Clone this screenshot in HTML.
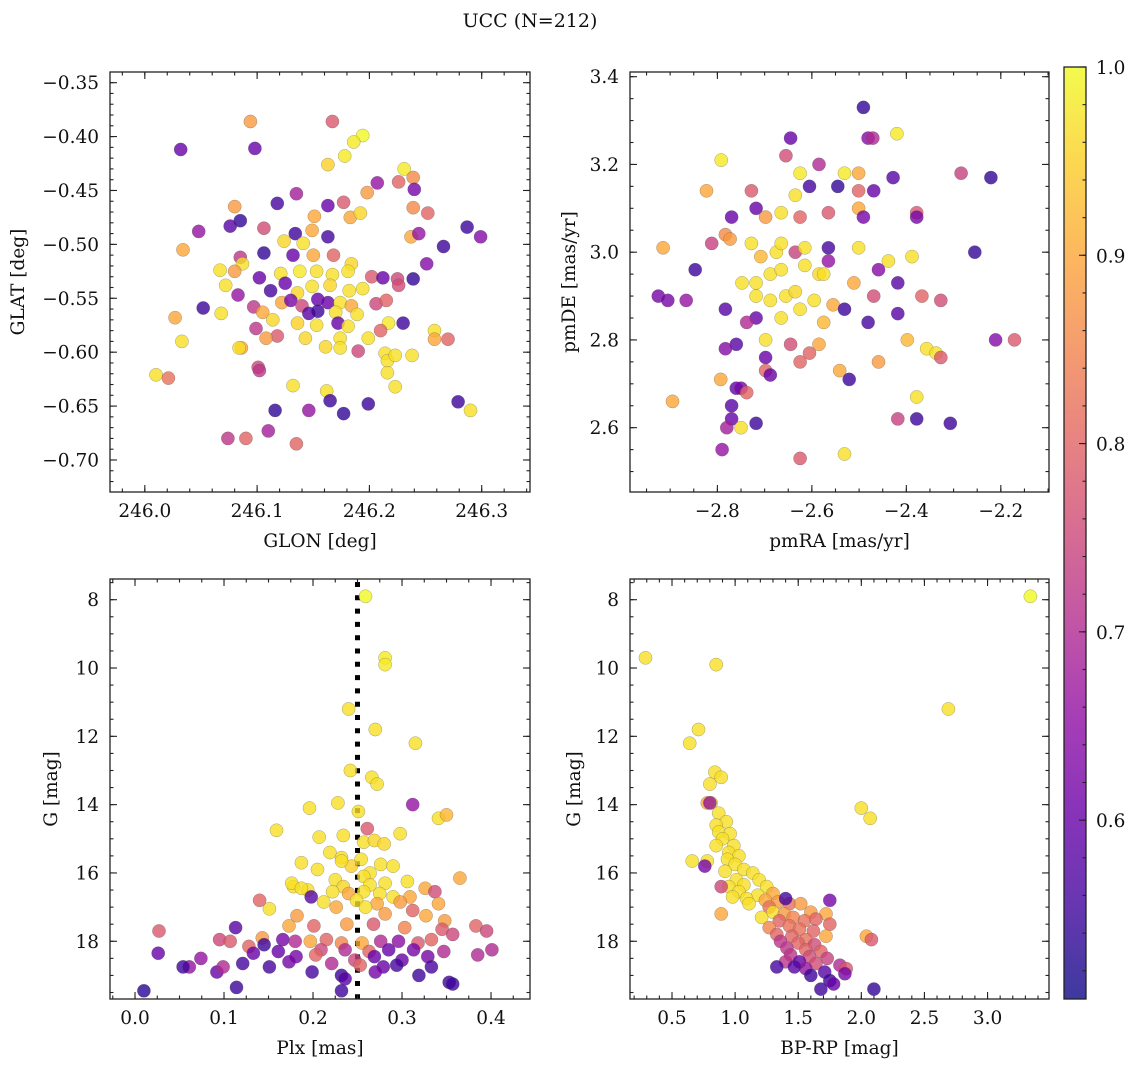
<!DOCTYPE html>
<html><head><meta charset="utf-8">
<style>
html,body{margin:0;padding:0;background:#fff;}
svg{display:block;font-family:"DejaVu Serif","Liberation Serif",serif;}
</style></head>
<body>
<svg id="fig" width="1136" height="1067" viewBox="0 0 1136 1067" xmlns="http://www.w3.org/2000/svg">
<rect width="1136" height="1067" fill="#fff"/>
<text x="530" y="27" font-size="19" text-anchor="middle" fill="#111">UCC (N=212)</text>
</svg>
<script>
// ---------- data ----------
const tlGlon=[246.032,246.094,246.098,246.167,246.194,246.186,246.178,246.231,246.163,246.239,246.226,246.207,246.135,246.198,246.24,246.177,246.163,246.08,246.118,246.239,246.252,246.151,246.183,246.192,246.085,246.287,246.048,246.134,246.106,246.149,246.163,246.237,246.244,246.299,246.076,246.124,246.141,246.106,246.034,246.266,246.132,246.15,246.085,246.168,246.087,246.251,246.184,246.067,246.08,246.121,246.138,246.153,246.167,246.181,246.202,246.212,246.225,246.239,246.102,246.112,246.125,246.072,246.083,246.136,246.149,246.165,246.182,246.194,246.226,246.052,246.097,246.122,246.13,246.14,246.154,246.163,246.174,246.184,246.206,246.215,246.068,246.105,246.146,246.154,246.17,246.189,246.027,246.114,246.136,246.153,246.172,246.181,246.217,246.23,246.099,246.21,246.258,246.118,246.108,246.143,246.174,246.199,246.258,246.27,246.033,246.174,246.086,246.084,246.161,246.19,246.214,246.216,246.223,246.238,246.101,246.102,246.216,246.01,246.021,246.132,246.223,246.162,246.165,246.199,246.279,246.29,246.116,246.146,246.177,246.11,246.074,246.09,246.135];
const tlGlat=[-0.412,-0.386,-0.411,-0.386,-0.399,-0.405,-0.418,-0.43,-0.426,-0.438,-0.442,-0.443,-0.453,-0.452,-0.449,-0.461,-0.464,-0.465,-0.462,-0.466,-0.471,-0.474,-0.475,-0.471,-0.478,-0.484,-0.488,-0.49,-0.485,-0.487,-0.493,-0.493,-0.49,-0.493,-0.483,-0.497,-0.499,-0.508,-0.505,-0.502,-0.51,-0.51,-0.512,-0.51,-0.518,-0.518,-0.518,-0.524,-0.525,-0.527,-0.525,-0.525,-0.528,-0.525,-0.53,-0.531,-0.532,-0.532,-0.531,-0.543,-0.536,-0.538,-0.547,-0.545,-0.539,-0.538,-0.543,-0.541,-0.538,-0.559,-0.558,-0.554,-0.552,-0.557,-0.551,-0.554,-0.554,-0.557,-0.555,-0.552,-0.564,-0.563,-0.564,-0.562,-0.563,-0.565,-0.568,-0.57,-0.573,-0.575,-0.573,-0.576,-0.573,-0.573,-0.578,-0.58,-0.58,-0.585,-0.587,-0.587,-0.587,-0.587,-0.588,-0.588,-0.59,-0.596,-0.596,-0.596,-0.595,-0.599,-0.601,-0.608,-0.603,-0.603,-0.614,-0.617,-0.619,-0.621,-0.624,-0.631,-0.632,-0.636,-0.645,-0.648,-0.646,-0.654,-0.654,-0.654,-0.657,-0.673,-0.68,-0.68,-0.685];
const tlProb=[0.6,0.88,0.6,0.78,1.0,0.98,0.98,0.98,0.95,0.86,0.8,0.66,0.68,0.88,0.62,0.78,0.6,0.88,0.56,0.86,0.8,0.9,0.9,0.96,0.54,0.55,0.66,0.55,0.76,0.9,0.56,0.9,0.66,0.64,0.58,0.96,0.97,0.54,0.9,0.55,0.6,0.9,0.72,0.8,0.97,0.64,0.96,0.97,0.88,0.97,0.98,0.97,0.97,0.97,0.78,0.6,0.75,0.54,0.6,0.56,0.6,0.97,0.66,0.96,0.97,0.96,0.97,0.97,0.76,0.55,0.72,0.9,0.62,0.75,0.6,0.6,0.97,0.9,0.75,0.8,0.97,0.9,0.58,0.55,0.97,0.97,0.9,0.96,0.95,0.97,0.6,0.97,0.98,0.55,0.72,0.8,0.97,0.78,0.88,0.96,0.97,0.97,0.9,0.8,0.97,0.97,0.9,0.97,0.96,0.75,0.97,0.97,0.97,0.97,0.75,0.72,0.97,0.97,0.82,0.97,0.97,0.97,0.55,0.55,0.55,0.97,0.54,0.66,0.54,0.68,0.72,0.8,0.8];

const trPmra=[-2.491,-2.645,-2.585,-2.792,-2.655,-2.42,-2.481,-2.471,-2.221,-2.284,-2.728,-2.823,-2.625,-2.605,-2.531,-2.501,-2.545,-2.469,-2.501,-2.428,-2.635,-2.501,-2.378,-2.378,-2.718,-2.665,-2.625,-2.565,-2.491,-2.77,-2.698,-2.728,-2.783,-2.812,-2.847,-2.915,-2.773,-2.708,-2.675,-2.665,-2.635,-2.615,-2.565,-2.501,-2.565,-2.459,-2.438,-2.388,-2.255,-2.748,-2.718,-2.688,-2.665,-2.615,-2.585,-2.575,-2.511,-2.469,-2.418,-2.367,-2.327,-2.925,-2.905,-2.866,-2.783,-2.718,-2.688,-2.655,-2.635,-2.595,-2.555,-2.531,-2.481,-2.418,-2.718,-2.665,-2.625,-2.575,-2.738,-2.698,-2.645,-2.585,-2.605,-2.76,-2.783,-2.698,-2.398,-2.357,-2.337,-2.327,-2.211,-2.171,-2.625,-2.459,-2.541,-2.698,-2.688,-2.521,-2.793,-2.76,-2.75,-2.738,-2.378,-2.77,-2.895,-2.77,-2.75,-2.718,-2.418,-2.378,-2.307,-2.78,-2.79,-2.625,-2.531];
const trPmde=[3.33,3.26,3.2,3.21,3.22,3.27,3.26,3.26,3.17,3.18,3.14,3.14,3.18,3.15,3.18,3.18,3.15,3.14,3.14,3.17,3.13,3.1,3.09,3.08,3.1,3.09,3.08,3.09,3.08,3.08,3.08,3.02,3.04,3.02,2.96,3.01,3.03,2.99,3.0,3.02,3.0,3.01,3.01,3.01,2.98,2.96,2.98,2.99,3.0,2.93,2.93,2.95,2.96,2.97,2.95,2.95,2.93,2.9,2.93,2.9,2.89,2.9,2.89,2.89,2.87,2.9,2.89,2.9,2.91,2.89,2.88,2.87,2.84,2.86,2.85,2.85,2.87,2.84,2.84,2.8,2.79,2.79,2.77,2.79,2.78,2.76,2.8,2.78,2.77,2.76,2.8,2.8,2.75,2.75,2.73,2.73,2.72,2.71,2.71,2.69,2.69,2.68,2.67,2.65,2.66,2.62,2.6,2.61,2.62,2.62,2.61,2.6,2.55,2.53,2.54];
const trProb=[0.54,0.6,0.7,0.98,0.76,0.98,0.64,0.7,0.54,0.74,0.78,0.9,0.98,0.56,0.98,0.9,0.54,0.6,0.8,0.58,0.97,0.9,0.78,0.62,0.6,0.97,0.8,0.78,0.62,0.6,0.88,0.97,0.86,0.74,0.55,0.9,0.88,0.92,0.97,0.97,0.74,0.97,0.56,0.97,0.66,0.64,0.97,0.97,0.54,0.97,0.97,0.97,0.97,0.97,0.96,0.97,0.9,0.76,0.58,0.8,0.76,0.62,0.62,0.66,0.58,0.97,0.97,0.97,0.96,0.97,0.9,0.55,0.56,0.58,0.6,0.97,0.97,0.92,0.7,0.97,0.76,0.9,0.8,0.58,0.64,0.6,0.92,0.97,0.97,0.78,0.64,0.78,0.8,0.88,0.9,0.8,0.6,0.55,0.9,0.6,0.62,0.8,0.97,0.58,0.9,0.6,0.97,0.55,0.74,0.55,0.55,0.68,0.66,0.78,0.97];

const blPlx=[0.259,0.281,0.281,0.24,0.27,0.315,0.242,0.266,0.272,0.251,0.312,0.196,0.228,0.341,0.35,0.159,0.261,0.298,0.207,0.234,0.257,0.269,0.28,0.219,0.232,0.254,0.187,0.276,0.29,0.243,0.205,0.232,0.264,0.178,0.194,0.225,0.257,0.281,0.365,0.176,0.234,0.264,0.306,0.326,0.187,0.222,0.24,0.257,0.275,0.198,0.29,0.309,0.337,0.212,0.249,0.272,0.298,0.341,0.151,0.226,0.259,0.281,0.312,0.327,0.182,0.348,0.14,0.113,0.027,0.173,0.201,0.238,0.268,0.303,0.345,0.383,0.357,0.395,0.074,0.095,0.107,0.128,0.143,0.166,0.18,0.197,0.215,0.232,0.255,0.276,0.296,0.318,0.333,0.145,0.161,0.209,0.236,0.263,0.285,0.313,0.347,0.401,0.026,0.133,0.181,0.203,0.247,0.269,0.3,0.329,0.385,0.061,0.121,0.151,0.173,0.221,0.253,0.279,0.294,0.333,0.054,0.092,0.099,0.199,0.232,0.27,0.319,0.236,0.353,0.357,0.114,0.01,0.232];
const blG=[7.9,9.7,9.9,11.2,11.8,12.2,13.0,13.2,13.4,14.2,14.0,14.1,13.95,14.4,14.3,14.75,14.7,14.85,14.95,14.9,15.1,15.05,15.15,15.4,15.55,15.6,15.7,15.75,15.8,15.8,15.9,15.65,16.0,16.4,16.5,16.2,16.1,16.3,16.15,16.3,16.4,16.35,16.25,16.45,16.45,16.55,16.6,16.55,16.6,16.7,16.7,16.7,16.55,16.85,16.8,16.9,16.85,16.9,17.05,17.0,17.0,17.2,17.1,17.25,17.25,17.4,16.8,17.6,17.7,17.55,17.55,17.5,17.5,17.6,17.65,17.55,17.8,17.7,18.5,17.95,18.0,18.15,17.9,17.95,18.0,18.0,17.95,18.05,18.05,18.0,18.0,18.05,17.95,18.1,18.3,18.25,18.25,18.3,18.25,18.25,18.3,18.25,18.35,18.35,18.45,18.4,18.55,18.45,18.55,18.45,18.4,18.75,18.65,18.75,18.6,18.65,18.7,18.75,18.7,18.75,18.75,18.9,18.75,18.9,19.0,18.9,19.0,19.1,19.2,19.25,19.35,19.45,19.45];
const blProb=[1.0,0.98,0.98,0.97,0.97,0.97,0.97,0.97,0.97,0.97,0.66,0.97,0.97,0.97,0.92,0.97,0.78,0.97,0.97,0.97,0.97,0.96,0.96,0.97,0.97,0.97,0.97,0.97,0.97,0.95,0.97,0.97,0.97,0.97,0.97,0.97,0.97,0.97,0.9,0.97,0.96,0.97,0.97,0.9,0.97,0.97,0.9,0.97,0.97,0.58,0.97,0.9,0.76,0.97,0.97,0.9,0.88,0.9,0.97,0.9,0.97,0.88,0.8,0.9,0.88,0.88,0.8,0.58,0.78,0.9,0.8,0.88,0.78,0.85,0.78,0.8,0.75,0.75,0.66,0.75,0.78,0.8,0.88,0.62,0.7,0.9,0.8,0.85,0.9,0.7,0.65,0.78,0.8,0.55,0.6,0.75,0.7,0.8,0.6,0.62,0.7,0.7,0.6,0.6,0.62,0.8,0.75,0.6,0.6,0.62,0.7,0.66,0.56,0.56,0.62,0.7,0.8,0.6,0.56,0.56,0.55,0.6,0.7,0.56,0.55,0.62,0.55,0.58,0.55,0.55,0.55,0.53,0.55];

const brBprp=[3.34,0.29,0.85,2.69,0.71,0.64,0.84,0.89,0.8,0.78,0.81,2.0,2.07,0.87,0.93,0.85,0.87,0.96,0.9,0.99,0.85,0.95,1.03,0.94,0.66,0.78,1.0,1.07,0.92,1.14,1.01,1.19,1.07,1.25,0.95,0.89,1.03,1.18,1.3,1.09,1.24,0.98,1.34,1.43,1.11,1.27,1.52,0.89,1.3,1.39,1.6,1.72,1.21,1.46,1.35,1.55,1.64,1.43,1.75,1.27,1.51,1.62,1.33,1.45,1.72,2.04,2.08,1.56,1.36,1.5,1.63,1.41,1.56,1.68,1.44,1.59,1.73,1.51,1.64,1.4,1.83,1.88,1.56,1.47,1.33,1.71,1.87,1.6,1.75,1.68,2.1,1.78,0.76,0.8,1.4,1.75];
const brG=[7.9,9.7,9.9,11.2,11.8,12.2,13.05,13.2,13.4,13.95,13.95,14.1,14.4,14.25,14.5,14.6,14.8,14.85,15.0,15.2,15.2,15.4,15.5,15.6,15.65,15.65,15.75,15.9,15.95,16.0,16.2,16.2,16.35,16.4,16.4,16.4,16.55,16.65,16.6,16.75,16.8,16.7,16.85,16.9,16.9,17.0,16.9,17.2,17.15,17.2,17.15,17.2,17.3,17.3,17.4,17.4,17.35,17.55,17.5,17.6,17.65,17.7,17.8,17.85,17.85,17.85,17.95,17.95,18.0,18.05,18.1,18.2,18.25,18.3,18.4,18.45,18.5,18.6,18.65,18.6,18.7,18.8,18.8,18.75,18.75,18.9,18.95,19.0,19.15,19.4,19.4,19.25,15.8,13.95,16.75,16.8];
const brProb=[1.0,0.97,0.97,0.97,0.97,0.97,0.97,0.97,0.97,0.9,0.97,0.97,0.97,0.97,0.97,0.97,0.97,0.97,0.97,0.97,0.97,0.97,0.97,0.97,0.97,0.97,0.97,0.97,0.97,0.97,0.97,0.97,0.97,0.97,0.97,0.75,0.97,0.97,0.9,0.97,0.9,0.97,0.88,0.82,0.97,0.82,0.88,0.9,0.97,0.88,0.88,0.9,0.97,0.85,0.8,0.82,0.8,0.82,0.8,0.85,0.82,0.8,0.8,0.8,0.9,0.9,0.78,0.82,0.72,0.8,0.76,0.72,0.8,0.8,0.72,0.76,0.74,0.6,0.76,0.72,0.7,0.78,0.66,0.58,0.56,0.58,0.62,0.55,0.55,0.55,0.54,0.6,0.62,0.66,0.56,0.62];

const cbTicks=[0.6,0.7,0.8,0.9,1.0];
const vmin=0.505, vmax=1.0;

// ---------- helpers ----------
const NS='http://www.w3.org/2000/svg';
const svg=document.getElementById('fig');
const FS=18.5;
function mk(tag,attrs,parent){const e=document.createElementNS(NS,tag);for(const k in attrs)e.setAttribute(k,attrs[k]);(parent||svg).appendChild(e);return e;}
const stops=[[13,8,135],[65,4,157],[106,0,168],[143,13,164],[177,42,144],[204,71,120],[225,100,98],[242,132,75],[252,166,54],[252,206,37],[240,249,33]];
function plasma(t){t=Math.max(0,Math.min(1,t));const f=t*10,i=Math.min(9,Math.floor(f)),r=f-i;const a=stops[i],b=stops[i+1];return 'rgb('+[0,1,2].map(k=>Math.round(a[k]+(b[k]-a[k])*r)).join(',')+')';}
function colorOf(p){return plasma((p-vmin)/(vmax-vmin));}
function fmt(v,d){const s=Math.abs(v).toFixed(d);return (v<-1e-9?'\u2212':'')+s;}

function panel(cfg){
  const g=mk('g',{});
  
  
  const {x0,x1,y0,y1}=cfg.box;
  const sx=v=>x0+(v-cfg.xlim[0])/(cfg.xlim[1]-cfg.xlim[0])*(x1-x0);
  const sy=v=>y0+(v-cfg.ylim[0])/(cfg.ylim[1]-cfg.ylim[0])*(y1-y0);
  if(cfg.vline!==undefined){
    const l=mk('line',{x1:sx(cfg.vline),x2:sx(cfg.vline),y1:y0+3,y2:y1,stroke:'#000','stroke-width':5,'stroke-dasharray':'5 8.3'},g);
    
    
  }
  const pts=mk('g',{},g);
  
  
  for(let i=0;i<cfg.xs.length;i++){
    const c=mk('circle',{cx:sx(cfg.xs[i]).toFixed(1),cy:sy(cfg.ys[i]).toFixed(1),r:6.6,fill:colorOf(cfg.ps[i]),'fill-opacity':0.8,stroke:'#555','stroke-opacity':0.5,'stroke-width':0.5},pts);
    
    
  }
  const fr=mk('rect',{x:x0,y:y0,width:x1-x0,height:y1-y0,fill:'none',stroke:'#222','stroke-width':1.3},g);
  
  
  const tk=mk('g',{stroke:'#222','stroke-width':1.1},g);
  
  
  const eps=1e-7;
  function range(lim,step){const a=Math.min(lim[0],lim[1]),b=Math.max(lim[0],lim[1]);const out=[];for(let v=Math.ceil(a/step-eps)*step;v<=b+eps;v+=step)out.push(v);return out;}
  range(cfg.xlim,cfg.xminor).forEach(v=>{const x=sx(v);mk('line',{x1:x,x2:x,y1:y1,y2:y1-3.5},tk);mk('line',{x1:x,x2:x,y1:y0,y2:y0+3.5},tk);});
  range(cfg.ylim,cfg.yminor).forEach(v=>{const y=sy(v);mk('line',{x1:x0,x2:x0+3.5,y1:y,y2:y},tk);mk('line',{x1:x1,x2:x1-3.5,y1:y,y2:y},tk);});
  cfg.xticks.forEach(v=>{const x=sx(v);mk('line',{x1:x,x2:x,y1:y1,y2:y1-7},tk);mk('line',{x1:x,x2:x,y1:y0,y2:y0+7},tk);
    const t=mk('text',{x:x,y:y1+25,'font-size':FS,'text-anchor':'middle',fill:'#111'},g);t.textContent=fmt(v,cfg.xdec);
    
    });
  cfg.yticks.forEach(v=>{const y=sy(v);mk('line',{x1:x0,x2:x0+7,y1:y,y2:y},tk);mk('line',{x1:x1,x2:x1-7,y1:y,y2:y},tk);
    const t=mk('text',{x:x0-11,y:y+6.5,'font-size':FS,'text-anchor':'end',fill:'#111'},g);t.textContent=fmt(v,cfg.ydec);
    
    });
  const xl=mk('text',{x:(x0+x1)/2,y:y1+55,'font-size':FS,'text-anchor':'middle',fill:'#111'},g);xl.textContent=cfg.xlabel;
  
  
  const yl=mk('text',{x:0,y:0,'font-size':FS,'text-anchor':'middle',fill:'#111',transform:'translate('+cfg.ylx+','+((y0+y1)/2)+') rotate(-90)'},g);yl.textContent=cfg.ylabel;
  
  
}

panel({name:'glon-glat-panel',box:{x0:110,x1:530,y0:72,y1:492},xlim:[245.969,246.343],ylim:[-0.3401,-0.7297],
  xs:tlGlon,ys:tlGlat,ps:tlProb,xticks:[246.0,246.1,246.2,246.3],xdec:1,xminor:0.02,
  yticks:[-0.35,-0.40,-0.45,-0.50,-0.55,-0.60,-0.65,-0.70],ydec:2,yminor:0.01,xlabel:'GLON [deg]',ylabel:'GLAT [deg]',ylx:24});
panel({name:'pmra-pmde-panel',box:{x0:630,x1:1049,y0:72,y1:492},xlim:[-2.985,-2.098],ylim:[3.4107,2.4534],
  xs:trPmra,ys:trPmde,ps:trProb,xticks:[-2.8,-2.6,-2.4,-2.2],xdec:1,xminor:0.05,
  yticks:[3.4,3.2,3.0,2.8,2.6],ydec:1,yminor:0.05,xlabel:'pmRA [mas/yr]',ylabel:'pmDE [mas/yr]',ylx:575});
panel({name:'plx-g-panel',box:{x0:110,x1:530,y0:579,y1:999},xlim:[-0.0281,0.4438],ylim:[7.394,19.69],
  xs:blPlx,ys:blG,ps:blProb,xticks:[0.0,0.1,0.2,0.3,0.4],xdec:1,xminor:0.025,vline:0.25,
  yticks:[8,10,12,14,16,18],ydec:0,yminor:0.5,xlabel:'Plx [mas]',ylabel:'G [mag]',ylx:57});
panel({name:'cmd-panel',box:{x0:630,x1:1049,y0:579,y1:999},xlim:[0.1672,3.487],ylim:[7.394,19.69],
  xs:brBprp,ys:brG,ps:brProb,xticks:[0.5,1.0,1.5,2.0,2.5,3.0],xdec:1,xminor:0.1,
  yticks:[8,10,12,14,16,18],ydec:0,yminor:0.5,xlabel:'BP-RP [mag]',ylabel:'G [mag]',ylx:580});

(function(){
  const cx0=1064,cx1=1086,cy0=67,cy1=999;
  const cg=mk('g',{});
  
  
  const defs=mk('defs',{},cg);
  const lg=mk('linearGradient',{id:'cbgrad',x1:0,y1:1,x2:0,y2:0},defs);
  for(let i=0;i<=20;i++){mk('stop',{offset:(i/20),'stop-color':plasma(i/20)},lg);}
  mk('rect',{x:cx0,y:cy0,width:cx1-cx0,height:cy1-cy0,fill:'url(#cbgrad)','fill-opacity':0.8},cg);
  mk('rect',{x:cx0,y:cy0,width:cx1-cx0,height:cy1-cy0,fill:'none',stroke:'#222','stroke-width':1.3},cg);
  const sy=v=>cy1-(v-vmin)/(vmax-vmin)*(cy1-cy0);
  for(let v=0.52;v<=1.0001;v+=0.02){const y=sy(v);mk('line',{x1:cx1,x2:cx1-3.5,y1:y,y2:y,stroke:'#222','stroke-width':1.1},cg);}
  cbTicks.forEach(v=>{const y=sy(v);mk('line',{x1:cx1,x2:cx1-7,y1:y,y2:y,stroke:'#222','stroke-width':1.1},cg);
    const t=mk('text',{x:cx1+10,y:y+7,'font-size':FS,fill:'#111'},cg);t.textContent=v.toFixed(1);
    
    });
})();
</script>
</body></html>
